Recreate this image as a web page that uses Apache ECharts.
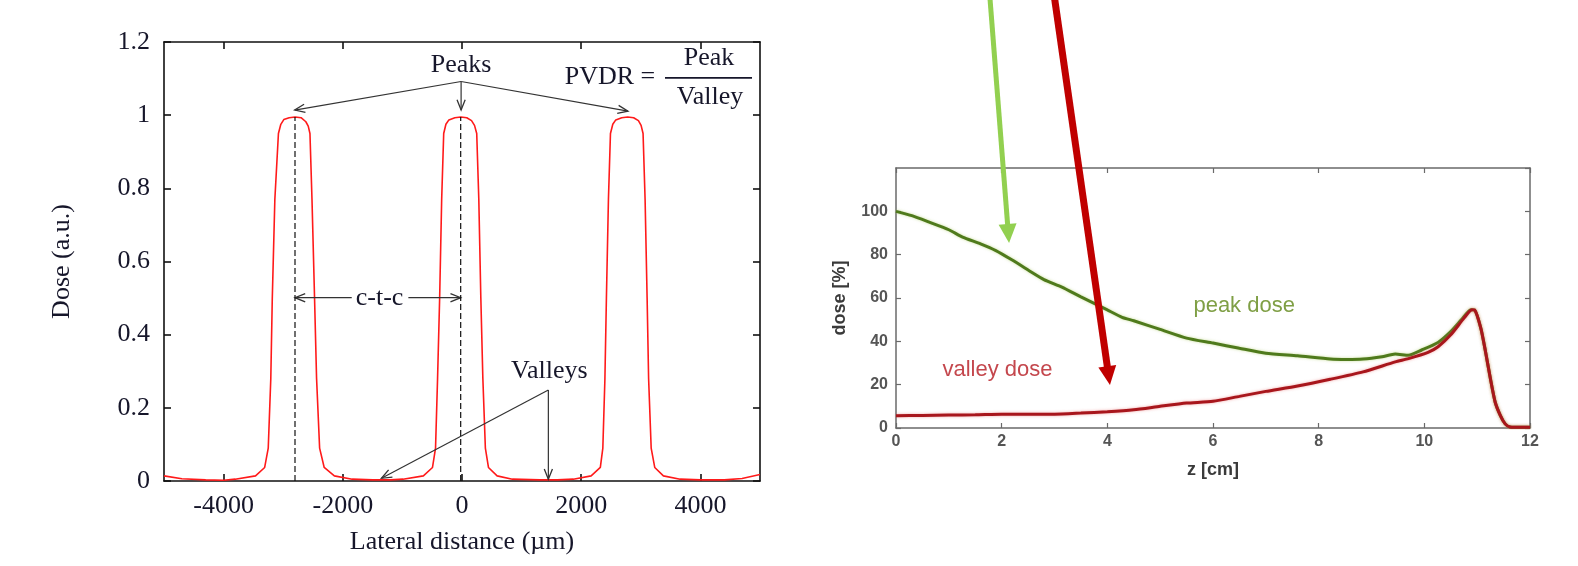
<!DOCTYPE html>
<html>
<head>
<meta charset="utf-8">
<title>Peak and valley dose</title>
<script src="https://cdn.jsdelivr.net/npm/echarts@6/dist/echarts.min.js"></script>
<style>
    html, body { margin: 0; padding: 0; background: #fff; }
    #main { width: 1578px; height: 566px; }
</style>
</head>
<body>
<div id="main"></div>
<script>
// left panel: lateral dose profile (um, a.u.)
var lateral = [-5000, -4700, -4300, -4000, -3805, -3464, -3311, -3251, -3208, -3183, -3140, -3080,
    -3040, -2990, -2900, -2800, -2700, -2620, -2580, -2551, -2517, -2474, -2440, -2389, -2312, -2142,
    -1843, -1500, -1200, -990, -648, -495, -444, -410, -375, -341, -307, -270, -220, -120, -20, 80,
    160, 210, 247, 282, 316, 350, 392, 444, 589, 845, 1300, 1600, 1869, 2167, 2321, 2363, 2398, 2423,
    2457, 2491, 2530, 2580, 2680, 2780, 2880, 2960, 3005, 3038, 3072, 3106, 3131, 3174, 3234, 3379,
    3660, 4000, 4400, 4700, 5000];
var dose = [0.014, 0.006, 0.003, 0.002, 0.005, 0.014, 0.037, 0.09, 0.28, 0.5, 0.77, 0.95,
    0.975, 0.988, 0.993, 0.995, 0.993, 0.982, 0.97, 0.95, 0.77, 0.5, 0.28, 0.09, 0.037, 0.014,
    0.005, 0.003, 0.003, 0.005, 0.014, 0.037, 0.09, 0.28, 0.5, 0.77, 0.95, 0.975, 0.987, 0.993, 0.995, 0.993,
    0.985, 0.972, 0.95, 0.77, 0.5, 0.28, 0.09, 0.037, 0.014, 0.005, 0.003, 0.003, 0.005, 0.014, 0.037, 0.09, 0.28, 0.5,
    0.77, 0.95, 0.975, 0.987, 0.993, 0.995, 0.993, 0.985, 0.972, 0.95, 0.77, 0.5, 0.28, 0.09, 0.037, 0.014,
    0.005, 0.003, 0.003, 0.007, 0.018];
var lateralTicks = [-4000, -2000, 0, 2000, 4000];

// right panel: depth dose (cm, %)
var zPeak = [0, 0.3, 0.63, 1, 1.26, 1.6, 1.89, 2.2, 2.52, 2.8, 3.14, 3.5, 3.77, 4, 4.28, 4.5, 5, 5.5,
    6, 6.5, 7, 7.6, 8.22, 8.53, 8.84, 9.2, 9.45, 9.7, 9.95, 10.26, 10.5, 10.7, 10.88, 10.95, 11.07,
    11.16, 11.25, 11.34, 11.44, 11.53, 11.62, 11.87, 12];
var peakDose = [100, 98, 95, 91.5, 88.1, 85, 81.9, 77.5, 72.6, 68.5, 65, 60.5, 57.3, 54.5, 51.1, 49.5, 45.5, 41.5,
    39.2, 36.8, 34.5, 33.3, 31.8, 31.6, 31.8, 32.9, 34.1, 33.6, 36, 39.5, 44.5, 49.9, 54.6, 54.5, 46,
    35, 22.8, 12, 5.7, 1.9, 0.5, 0.3, 0.3];
var zValley = [0, 0.5, 1, 1.5, 2, 2.5, 3, 3.5, 4, 4.5, 5, 5.5, 6, 6.5, 7, 7.6, 8.22, 8.84, 9.45, 9.7,
    10.07, 10.26, 10.5, 10.75, 10.9, 10.95, 11.07, 11.16, 11.25, 11.34, 11.44, 11.53, 11.62, 11.87, 12];
var valleyDose = [5.7, 5.8, 6, 6.1, 6.4, 6.4, 6.4, 6.9, 7.5, 8.4, 10, 11.5, 12.3, 14.6, 16.9, 19.4, 22.5, 25.9, 30.5, 32,
    34.9, 37.5, 43, 50.7, 54.6, 54.5, 46, 35, 22.8, 12, 5.7, 1.9, 0.5, 0.3, 0.3];

// annotations, in the left panel's data units: [x1, y1, x2, y2]
var leftAnno = [
    [-15, 1.092, -2807, 1.014],
    [-15, 1.092, -15, 1.014],
    [-15, 1.092, 2785, 1.011],
    [1449, 0.249, -1351, 0.0074],
    [1449, 0.249, 1449, 0.0046],
    [-1850, 0.501, -2802, 0.501],
    [-900, 0.501, -22, 0.501],
    [-2802, 0, -2802, 0.995],
    [-22, 0, -22, 0.995],
    [3406, 1.102, 4866, 1.102]
];
var leftAnnoKind = ['arrow', 'arrow', 'arrow', 'arrow', 'arrow', 'arrow', 'arrow', 'dash', 'dash', 'rule'];
var leftText = ['Peaks', 'PVDR =', 'Peak', 'Valley', 'c-t-c', 'Valleys'];
var leftTextPos = [[-15, 1.137], [2483, 1.104], [4144, 1.156], [4161, 1.050], [-1384, 0.501], [1466, 0.299]];

// annotations in the right panel's data units
var rightText = ['peak dose', 'valley dose'];
var rightTextPos = [[6.59, 56.3], [1.92, 26.8]];
var rightTextColor = ['#7f9f45', '#c4474d'];
var bigArrows = [[1.757, 205, 2.14, 85.4], [2.962, 205, 4.05, 19.8]];
var bigArrowColor = ['#92d050', '#c00000'];
var bigArrowWidth = [5, 7];

var serif = '"Liberation Serif", "DejaVu Serif", serif';
var sans = '"Liberation Sans", Arial, sans-serif';
var ink = '#16162a';

function zip(a, b) {
    return a.map(function (v, i) { return [v, b[i]]; });
}

function plain(v) {
    return String(v);
}

function renderLeftAnno(params, api) {
    var a = api.coord([api.value(0), api.value(1)]);
    var b = api.coord([api.value(2), api.value(3)]);
    var kind = leftAnnoKind[params.dataIndex];
    var col = kind === 'rule' ? ink : (kind === 'dash' ? '#111' : '#333');
    var children = [{
        type: 'line',
        shape: {x1: a[0], y1: a[1], x2: b[0], y2: b[1]},
        style: {stroke: col, lineWidth: kind === 'rule' ? 1.6 : 1.2, lineDash: kind === 'dash' ? [6, 3] : null}
    }];
    if (kind === 'arrow') {
        var ang = Math.atan2(b[1] - a[1], b[0] - a[0]);
        var L = 11, s = 0.38;
        children.push({
            type: 'polyline',
            shape: {points: [
                [b[0] - L * Math.cos(ang - s), b[1] - L * Math.sin(ang - s)],
                b,
                [b[0] - L * Math.cos(ang + s), b[1] - L * Math.sin(ang + s)]
            ]},
            style: {stroke: '#333', lineWidth: 1.3, fill: null}
        });
    }
    return {type: 'group', children: children};
}

function renderLeftText(params, api) {
    var p = api.coord([api.value(0), api.value(1)]);
    return {
        type: 'text',
        style: {text: leftText[params.dataIndex], x: p[0], y: p[1], align: 'center', verticalAlign: 'middle',
            font: '26px ' + serif, fill: ink}
    };
}

function renderRightText(params, api) {
    var p = api.coord([api.value(0), api.value(1)]);
    return {
        type: 'text',
        style: {text: rightText[params.dataIndex], x: p[0], y: p[1], align: 'center', verticalAlign: 'middle',
            font: '22px ' + sans, fill: rightTextColor[params.dataIndex]}
    };
}

function renderBigArrow(params, api) {
    var a = api.coord([api.value(0), api.value(1)]);
    var b = api.coord([api.value(2), api.value(3)]);
    var i = params.dataIndex;
    var ang = Math.atan2(b[1] - a[1], b[0] - a[0]);
    var c = Math.cos(ang), s = Math.sin(ang);
    var H = 19, W = 9;
    var base = [b[0] - H * c, b[1] - H * s];
    return {
        type: 'group',
        children: [{
            type: 'line',
            shape: {x1: a[0], y1: a[1], x2: base[0] + 2 * c, y2: base[1] + 2 * s},
            style: {stroke: bigArrowColor[i], lineWidth: bigArrowWidth[i]}
        }, {
            type: 'polygon',
            shape: {points: [b, [base[0] + W * s, base[1] - W * c], [base[0] - W * s, base[1] + W * c]]},
            style: {fill: bigArrowColor[i]}
        }]
    };
}

var leftLine = {onZero: false, lineStyle: {color: '#111', width: 1.6}};
var rightLine = {onZero: false, lineStyle: {color: '#6a6a6a', width: 1.5}};

var myChart = echarts.init(document.getElementById('main'));

var option = {
    backgroundColor: '#fff',
    animation: false,
    grid: [
        {left: 164, top: 42, width: 596, height: 439},
        {left: 896, top: 168, width: 634, height: 260}
    ],
    xAxis: [
        {
            type: 'value', gridIndex: 0, min: -5000, max: 5000,
            axisLine: leftLine, splitLine: {show: false},
            axisTick: {inside: true, length: 7, customValues: lateralTicks, lineStyle: {color: '#111', width: 1.6}},
            axisLabel: {customValues: lateralTicks, formatter: plain, margin: 12, fontFamily: serif, fontSize: 26, color: ink},
            name: 'Lateral distance (\u00b5m)', nameLocation: 'middle', nameGap: 48,
            nameTextStyle: {fontFamily: serif, fontSize: 26, color: ink}
        },
        {
            type: 'value', gridIndex: 0, position: 'top', min: -5000, max: 5000,
            axisLine: leftLine, splitLine: {show: false},
            axisTick: {inside: true, length: 7, customValues: lateralTicks, lineStyle: {color: '#111', width: 1.6}},
            axisLabel: {show: false}
        },
        {
            type: 'value', gridIndex: 1, min: 0, max: 12, interval: 2,
            axisLine: rightLine, splitLine: {show: false},
            axisTick: {inside: true, length: 5, lineStyle: {color: '#6a6a6a', width: 1.2}},
            axisLabel: {margin: 6, fontFamily: sans, fontSize: 16, fontWeight: 'bold', color: '#555'},
            name: 'z [cm]', nameLocation: 'middle', nameGap: 33,
            nameTextStyle: {fontFamily: sans, fontSize: 18, fontWeight: 'bold', color: '#3a3a3a'}
        },
        {
            type: 'value', gridIndex: 1, position: 'top', min: 0, max: 12, interval: 2,
            axisLine: rightLine, splitLine: {show: false},
            axisTick: {inside: true, length: 5, lineStyle: {color: '#6a6a6a', width: 1.2}},
            axisLabel: {show: false}
        }
    ],
    yAxis: [
        {
            type: 'value', gridIndex: 0, min: 0, max: 1.2, interval: 0.2,
            axisLine: leftLine, splitLine: {show: false},
            axisTick: {inside: true, length: 7, lineStyle: {color: '#111', width: 1.6}},
            axisLabel: {margin: 14, fontFamily: serif, fontSize: 26, color: ink},
            name: 'Dose (a.u.)', nameLocation: 'middle', nameGap: 89,
            nameTextStyle: {fontFamily: serif, fontSize: 26, color: ink}
        },
        {
            type: 'value', gridIndex: 0, position: 'right', min: 0, max: 1.2, interval: 0.2,
            axisLine: leftLine, splitLine: {show: false},
            axisTick: {inside: true, length: 7, lineStyle: {color: '#111', width: 1.6}},
            axisLabel: {show: false}
        },
        {
            type: 'value', gridIndex: 1, min: 0, max: 120, interval: 20,
            axisLine: rightLine, splitLine: {show: false},
            axisTick: {inside: true, length: 5, lineStyle: {color: '#6a6a6a', width: 1.2}},
            axisLabel: {margin: 8, showMaxLabel: false, fontFamily: sans, fontSize: 16, fontWeight: 'bold', color: '#555'},
            name: 'dose [%]', nameLocation: 'middle', nameGap: 47,
            nameTextStyle: {fontFamily: sans, fontSize: 18, fontWeight: 'bold', color: '#3a3a3a'}
        },
        {
            type: 'value', gridIndex: 1, position: 'right', min: 0, max: 120, interval: 20,
            axisLine: rightLine, splitLine: {show: false},
            axisTick: {inside: true, length: 5, lineStyle: {color: '#6a6a6a', width: 1.2}},
            axisLabel: {show: false}
        }
    ],
    series: [
        {
            name: 'lateral profile', type: 'line', xAxisIndex: 0, yAxisIndex: 0,
            data: zip(lateral, dose), showSymbol: false, smooth: false,
            lineStyle: {color: '#ff1a1a', width: 1.6}, z: 3
        },
        {
            name: 'markers', type: 'custom', xAxisIndex: 0, yAxisIndex: 0,
            data: leftAnno, encode: {x: [0, 2], y: [1, 3]},
            renderItem: renderLeftAnno, clip: false, silent: true, z: 4
        },
        {
            name: 'labels', type: 'custom', xAxisIndex: 0, yAxisIndex: 0,
            data: leftTextPos, renderItem: renderLeftText, clip: false, silent: true, z: 5
        },
        {
            name: 'peak dose', type: 'line', xAxisIndex: 2, yAxisIndex: 2,
            data: zip(zPeak, peakDose), showSymbol: false, smooth: 0.2,
            lineStyle: {color: '#4f7a1c', width: 3, shadowColor: 'rgba(150,190,60,0.5)', shadowBlur: 3}, z: 3
        },
        {
            name: 'valley dose', type: 'line', xAxisIndex: 2, yAxisIndex: 2,
            data: zip(zValley, valleyDose), showSymbol: false, smooth: 0.2,
            lineStyle: {color: '#a8161c', width: 3, shadowColor: 'rgba(230,80,80,0.5)', shadowBlur: 3}, z: 4
        },
        {
            name: 'curve labels', type: 'custom', xAxisIndex: 2, yAxisIndex: 2,
            data: rightTextPos, renderItem: renderRightText, clip: false, silent: true, z: 5
        },
        {
            name: 'pointers', type: 'custom', xAxisIndex: 2, yAxisIndex: 2,
            data: bigArrows, encode: {x: [0, 2], y: [1, 3]},
            renderItem: renderBigArrow, clip: false, silent: true, z: 10
        }
    ]
};

myChart.setOption(option);
</script>
</body>
</html>
